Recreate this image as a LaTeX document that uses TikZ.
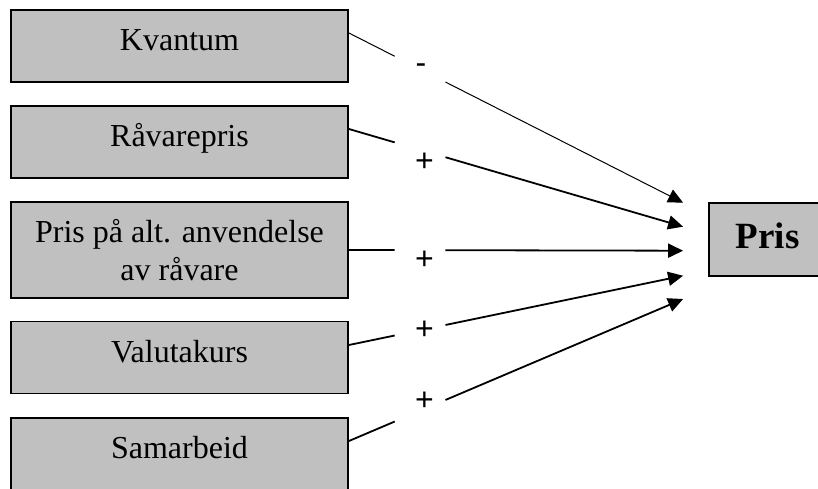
\documentclass[tikz,border=0pt]{standalone}
\usepackage{fontspec}
\setmainfont{Liberation Serif}
\newfontfamily\signfont{Liberation Sans}
\usetikzlibrary{arrows.meta}
\definecolor{boxgray}{HTML}{C0C0C0}
\begin{document}
\begin{tikzpicture}[x=1pt,y=-1pt,
  factor/.style={draw=black, line width=1.8pt, fill=boxgray,
    minimum width=337pt, minimum height=72pt, inner sep=0pt,
    font=\fontsize{32}{37.6}\selectfont},
  oneline/.style={text height=23pt, text depth=14pt},
  result/.style={draw=black, line width=1.8pt, fill=boxgray,
    minimum width=117.4pt, minimum height=73pt, inner sep=0pt,
    font=\fontsize{37}{44}\selectfont\bfseries,
    text height=25pt, text depth=6.8pt},
  sign/.style={anchor=base, inner sep=0pt,
    font=\signfont\fontsize{32}{38}\selectfont},
  link/.style={line width=1.8pt},
  effect/.style={link, -{Triangle[length=15pt,width=14pt]}},
]
\useasboundingbox (0,0) rectangle (818,489);

% factor boxes
\node[factor, oneline] (kv) at (179.5,46) {Kvantum};
\node[factor, oneline] (rp) at (179.5,142) {Råvarepris};
\node[factor, align=center, minimum height=96pt] (alt) at (179.5,250)
  {Pris på alt. anvendelse\\av råvare};
\node[factor, oneline] (vk) at (179.5,357.5) {Valutakurs};
\node[factor, oneline] (sa) at (179.5,454) {Samarbeid};

% resulting price
\node[result] (pr) at (767.7,239.2) {Pris};

% signs of the effects
\node[sign] (s-kv)  at (421,73.9)    {-};
\node[sign] (s-rp)  at (424.5,171.8) {+};
\node[sign] (s-alt) at (424.5,269.3) {+};
\node[sign] (s-vk)  at (424.5,339.3) {+};
\node[sign] (s-sa)  at (424.5,410.3) {+};

% effect arrows, each broken around its sign
\foreach \src/\dy/\ey/\lw in {kv/13/36.5/1pt, rp/13/12.5/1.8pt,
    alt/0/-11.5/1.8pt, vk/12.5/-36.5/1.8pt, sa/13/-59.8/1.8pt}{
  \coordinate (\src-out) at ([yshift=\dy pt]\src.east);
  \coordinate (\src-in) at ([xshift=-25pt,yshift=\ey pt]pr.west);
  \path (\src-out) -- (\src-in)
    coordinate[pos=0.137] (\src-a) coordinate[pos=0.289] (\src-b);
  \draw[link, line width=\lw] (\src-out) -- (\src-a);
  \draw[effect, line width=\lw] (\src-b) -- (\src-in);
}
\end{tikzpicture}
\end{document}
